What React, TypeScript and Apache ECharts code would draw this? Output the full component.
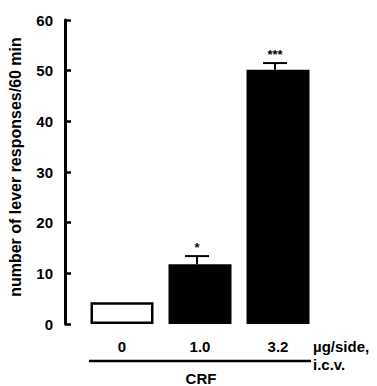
import React, { useEffect, useRef } from "react";
import * as echarts from "echarts";

const categories = ["0", "1.0", "3.2"];
const means = [4.3, 11.8, 50.2];
const sems = [0, 1.6, 1.3];
const significance = ["", "*", "***"];
const yMin = 0;
const yMax = 60;
const yInterval = 10;
const yTitle = "number of lever responses/60 min";
const unitLine1 = "µg/side,";
const unitLine2 = "i.c.v.";
const groupLabel = "CRF";

const FONT = "'Liberation Sans', Arial, Helvetica, sans-serif";

export default function App() {
  const ref = useRef<HTMLDivElement>(null);
  useEffect(() => {
    if (!ref.current) return;
    const chart = echarts.init(ref.current, null, { renderer: "svg" });
    const option: any = {
      animation: false,
      backgroundColor: "#ffffff",
      grid: { left: 83, right: 60, top: 20, bottom: 62 },
      xAxis: {
        type: "category",
        data: categories,
        axisLine: { show: false },
        axisTick: { show: false },
        axisLabel: {
          color: "#000",
          fontFamily: FONT,
          fontWeight: "bold",
          fontSize: 15,
          margin: 15,
        },
      },
      yAxis: {
        type: "value",
        min: yMin,
        max: yMax,
        interval: yInterval,
        offset: 18,
        splitLine: { show: false },
        axisLine: { show: true, lineStyle: { color: "#000", width: 3 } },
        axisTick: { show: true, inside: true, length: 6, lineStyle: { color: "#000", width: 2.5 } },
        axisLabel: {
          color: "#000",
          fontFamily: FONT,
          fontWeight: "bold",
          fontSize: 15,
          margin: 12,
        },
      },
      graphic: [
        {
          type: "text",
          x: 15,
          y: 167,
          rotation: Math.PI / 2,
          style: {
            text: yTitle,
            fill: "#000",
            font: `bold 16px ${FONT}`,
            textAlign: "center",
            textVerticalAlign: "middle",
          },
        },
        {
          type: "text",
          x: 313,
          y: 346,
          style: {
            text: unitLine1,
            fill: "#000",
            font: `bold 15px ${FONT}`,
            textAlign: "left",
            textVerticalAlign: "middle",
          },
        },
        {
          type: "text",
          x: 313,
          y: 364,
          style: {
            text: unitLine2,
            fill: "#000",
            font: `bold 15px ${FONT}`,
            textAlign: "left",
            textVerticalAlign: "middle",
          },
        },
        {
          type: "line",
          shape: { x1: 89, y1: 361, x2: 311, y2: 361 },
          style: { stroke: "#000", lineWidth: 2.5 },
        },
        {
          type: "text",
          x: 201,
          y: 378,
          style: {
            text: groupLabel,
            fill: "#000",
            font: `bold 15px ${FONT}`,
            textAlign: "center",
            textVerticalAlign: "middle",
          },
        },
      ],
      series: [
        {
          type: "bar",
          barWidth: 63,
          data: means.map((v, i) => ({
            value: v,
            itemStyle:
              i === 0
                ? { color: "#fff", borderColor: "#000", borderWidth: 2.5 }
                : { color: "#000", borderColor: "#000", borderWidth: 0 },
          })),
        },
        {
          type: "custom",
          data: means.map((v, i) => [i, v, sems[i], significance[i]]),
          z: 10,
          renderItem: (params: any, api: any) => {
            const idx = api.value(0);
            const m = api.value(1);
            const e = api.value(2);
            const sig = significance[params.dataIndex];
            const base = api.coord([idx, m]);
            const top = api.coord([idx, m + e]);
            const children: any[] = [];
            if (e > 0) {
              children.push({
                type: "line",
                shape: { x1: top[0] - 3, y1: base[1], x2: top[0] - 3, y2: top[1] },
                style: { stroke: "#000", lineWidth: 2 },
              });
              children.push({
                type: "line",
                shape: { x1: top[0] - 15, y1: top[1], x2: top[0] + 9, y2: top[1] },
                style: { stroke: "#000", lineWidth: 2 },
              });
            }
            if (sig) {
              children.push({
                type: "text",
                x: top[0] - 3,
                y: top[1] - 9,
                style: {
                  text: sig,
                  fill: "#000",
                  font: `bold 13px ${FONT}`,
                  textAlign: "center",
                  textVerticalAlign: "middle",
                },
              });
            }
            return { type: "group", children };
          },
        },
      ],
    };
    chart.setOption(option);
    return () => chart.dispose();
  }, []);
  return (
    <div
      ref={ref}
      style={{ position: "fixed", left: 0, top: 0, width: 377, height: 386 }}
    />
  );
}
